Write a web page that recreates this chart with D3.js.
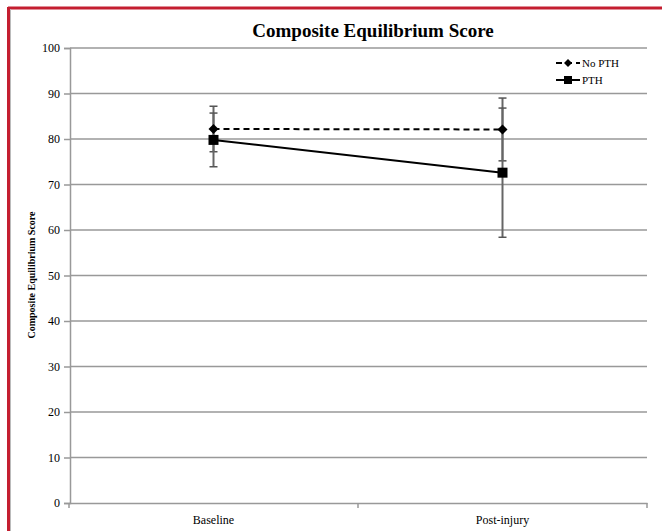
<!DOCTYPE html>
<html>
<head>
<meta charset="utf-8">
<script src="https://cdn.jsdelivr.net/npm/d3@7"></script>
<style>
  html, body { margin: 0; padding: 0; background: #fff; }
  svg { display: block; }
  svg text { font-family: "Liberation Serif", "Times New Roman", serif !important; fill: #000; }
</style>
</head>
<body>
<svg id="chart" width="662" height="531"></svg>
<script>
// Time points on the x axis
const categories = ["Baseline", "Post-injury"];
// Group means and error-bar half-widths
const noPthMean = [82.2, 82.1];
const noPthErr  = [5.0, 6.9];
const pthMean   = [79.8, 72.6];
const pthErr    = [5.9, 14.2];
const yTicks = [0, 10, 20, 30, 40, 50, 60, 70, 80, 90, 100];

const series = [
  { name: "No PTH", mean: noPthMean, err: noPthErr, dash: "6,4", marker: "diamond" },
  { name: "PTH",    mean: pthMean,   err: pthErr,   dash: null,  marker: "square" }
];

const svg = d3.select("#chart");
const W = 662, H = 531;

// frame
svg.append("line").attr("x1", 8).attr("x2", W).attr("y1", 8).attr("y2", 8)
  .attr("stroke", "#c41e30").attr("stroke-width", 3);
svg.append("line").attr("x1", 8.5).attr("x2", 8.5).attr("y1", 7).attr("y2", H)
  .attr("stroke", "#c41e30").attr("stroke-width", 3);
svg.append("line").attr("x1", 10.5).attr("x2", 10.5).attr("y1", 9).attr("y2", H)
  .attr("stroke", "#bbb").attr("stroke-width", 1);

const x = d3.scaleBand().domain(categories).range([69, 647]);
const y = d3.scaleLinear().domain([0, 100]).range([503, 48]);
const cx = c => x(c) + x.bandwidth() / 2;

// gridlines
svg.append("g").selectAll("line").data(yTicks.filter(t => t > 0)).join("line")
  .attr("x1", 70).attr("x2", 647)
  .attr("y1", d => y(d)).attr("y2", d => y(d))
  .attr("stroke", "#999").attr("stroke-width", 1.5);

// y axis
const yAxis = svg.append("g").attr("transform", "translate(70,0)")
  .call(d3.axisLeft(y).tickValues(yTicks).tickSize(6).tickPadding(4));
yAxis.select(".domain").attr("stroke", "#999").attr("stroke-width", 1.5);
yAxis.selectAll(".tick line").attr("stroke", "#999").attr("stroke-width", 1.5);
yAxis.selectAll(".tick text").style("font-size", "12px").attr("fill", "#000");

// x axis
const xAxis = svg.append("g").attr("transform", "translate(0,503)")
  .call(d3.axisBottom(x).tickSize(0).tickPadding(12));
xAxis.select(".domain").attr("stroke", "#999").attr("stroke-width", 1.5);
xAxis.selectAll(".tick text").style("font-size", "12px").attr("fill", "#000");
// category boundary ticks
const bounds = [x.range()[0], x(categories[1]), x.range()[1]];
svg.append("g").selectAll("line").data(bounds).join("line")
  .attr("x1", d => d).attr("x2", d => d).attr("y1", 503).attr("y2", 508)
  .attr("stroke", "#999").attr("stroke-width", 1.5);

// titles
svg.append("text").attr("x", 373).attr("y", 37).attr("text-anchor", "middle")
  .style("font-size", "19px").style("font-weight", "bold")
  .text("Composite Equilibrium Score");
svg.append("text").attr("transform", "translate(35,275) rotate(-90)")
  .attr("text-anchor", "middle").style("font-size", "10px").style("font-weight", "bold")
  .text("Composite Equilibrium Score");

// error bars
series.forEach(s => {
  const g = svg.append("g");
  categories.forEach((c, i) => {
    const hi = s.mean[i] + s.err[i], lo = s.mean[i] - s.err[i];
    g.append("line").attr("x1", cx(c)).attr("x2", cx(c))
      .attr("y1", y(hi)).attr("y2", y(lo))
      .attr("stroke", "#666").attr("stroke-width", 2);
    [hi, lo].forEach(v => g.append("line")
      .attr("x1", cx(c) - 4).attr("x2", cx(c) + 4)
      .attr("y1", y(v)).attr("y2", y(v))
      .attr("stroke", "#555").attr("stroke-width", 1.5));
  });
});

const line = d3.line().x((d, i) => cx(categories[i])).y(d => y(d));
// diamond = square turned 45 degrees
const markerPath = {
  diamond: d3.symbol().type(d3.symbolSquare).size(50)(),
  square:  d3.symbol().type(d3.symbolSquare).size(100)()
};
const markerRot = { diamond: 45, square: 0 };

series.forEach(s => {
  svg.append("path").datum(s.mean).attr("d", line)
    .attr("fill", "none").attr("stroke", "#000").attr("stroke-width", 2)
    .attr("stroke-dasharray", s.dash);
  svg.append("g").selectAll("path").data(s.mean).join("path")
    .attr("d", markerPath[s.marker])
    .attr("transform", (d, i) => `translate(${cx(categories[i])},${y(d)}) rotate(${markerRot[s.marker]})`)
    .attr("fill", "#000");
});

// legend
const leg = svg.append("g").attr("transform", "translate(556,63)");
series.forEach((s, i) => {
  const gy = i * 17;
  leg.append("line").attr("x1", 0).attr("x2", 24).attr("y1", gy).attr("y2", gy)
    .attr("stroke", "#000").attr("stroke-width", 2).attr("stroke-dasharray", s.dash);
  leg.append("path").attr("d", markerPath[s.marker])
    .attr("transform", `translate(12,${gy}) rotate(${markerRot[s.marker]}) scale(0.8)`)
    .attr("fill", "#000");
  leg.append("text").attr("x", 26).attr("y", gy + 4)
    .style("font-size", "11px").text(s.name);
});
</script>
</body>
</html>
